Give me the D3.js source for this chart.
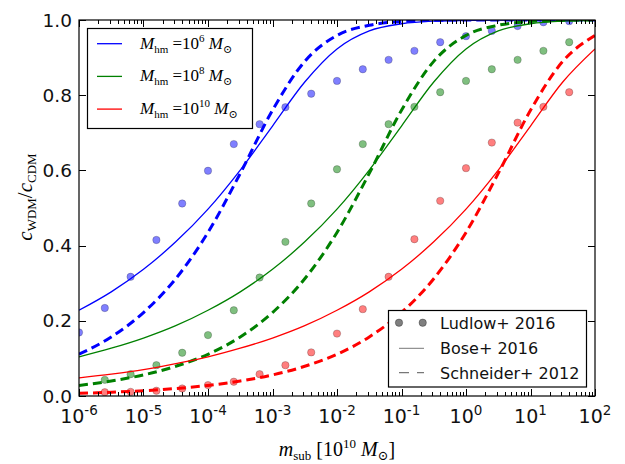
<!DOCTYPE html>
<html>
<head>
<meta charset="utf-8">
<script src="https://cdn.jsdelivr.net/npm/d3@7"></script>
<style>
	body { margin: 0; background: #fff; }
	svg { display: block; }
</style>
</head>
<body>
<div id="chart"></div>
<script>
// Ludlow+ 2016 points, x = log10(m_sub / 1e10 Msun)
var ludlowLogM = [-6.0, -5.6, -5.2, -4.8, -4.4, -4.0, -3.6, -3.2, -2.8, -2.4,
	-2.0, -1.6, -1.2, -0.8, -0.4, 0.0, 0.4, 0.8, 1.2, 1.6];
var ludlowBlue = [0.169, 0.234, 0.317, 0.415, 0.512, 0.599, 0.670, 0.723, 0.768, 0.804,
	0.838, 0.869, 0.894, 0.918, 0.941, 0.957, 0.971, 0.984, 0.994, 0.997];
var ludlowGreen = [null, 0.043, 0.058, 0.082, 0.115, 0.162, 0.228, 0.315, 0.410, 0.512,
	0.603, 0.670, 0.723, 0.769, 0.808, 0.838, 0.869, 0.894, 0.918, 0.941];
var ludlowRed = [null, 0.010, 0.011, 0.014, 0.020, 0.029, 0.038, 0.058, 0.082, 0.116,
	0.166, 0.231, 0.317, 0.417, 0.519, 0.606, 0.674, 0.727, 0.769, 0.808];

// model curves read every half decade
var curveLogM = [-6, -5.5, -5, -4.5, -4, -3.5, -3, -2.5, -2, -1.5, -1, -0.5, 0, 0.5, 1, 1.5, 2];
var boseBlue = [0.228, 0.277, 0.337, 0.410, 0.497, 0.601, 0.718, 0.835, 0.923, 0.971,
	0.990, 0.997, 0.999, 1.0, 1.0, 1.0, 1.0];
var boseGreen = [0.104, 0.127, 0.154, 0.187, 0.228, 0.277, 0.337, 0.410, 0.497, 0.601,
	0.718, 0.835, 0.923, 0.971, 0.990, 0.997, 0.999];
var boseRed = [0.048, 0.058, 0.070, 0.086, 0.104, 0.127, 0.154, 0.187, 0.228, 0.277,
	0.337, 0.410, 0.497, 0.601, 0.718, 0.835, 0.923];
var schneiderBlue = [0.111, 0.157, 0.222, 0.312, 0.435, 0.592, 0.760, 0.890, 0.959, 0.986,
	0.996, 0.999, 1.0, 1.0, 1.0, 1.0, 1.0];
var schneiderGreen = [0.028, 0.040, 0.056, 0.079, 0.111, 0.157, 0.222, 0.312, 0.435, 0.592,
	0.760, 0.890, 0.959, 0.986, 0.996, 0.999, 1.0];
var schneiderRed = [0.007, 0.010, 0.014, 0.020, 0.028, 0.040, 0.056, 0.079, 0.111, 0.157,
	0.222, 0.312, 0.435, 0.592, 0.760, 0.890, 0.959];

var xTickExp = [-6, -5, -4, -3, -2, -1, 0, 1, 2];
var yTicks = [0, 0.2, 0.4, 0.6, 0.8, 1.0];
var hmExp = ["6", "8", "10"];
var refNames = ["Ludlow+ 2016", "Bose+ 2016", "Schneider+ 2012"];

var colors = ["#0000ff", "#008000", "#ff0000"];
var serif = "'Liberation Serif', 'DejaVu Serif', serif";
var sans = "'DejaVu Sans', sans-serif";

var width = 625, height = 464;
var x = d3.scaleLog().domain([1e-6, 1e2]).range([79, 595]);
var y = d3.scaleLinear().domain([0, 1]).range([396, 20]);

var svg = d3.select("#chart").append("svg")
	.attr("width", width)
	.attr("height", height);

svg.append("clipPath").attr("id", "clip")
	.append("rect")
	.attr("x", x.range()[0]).attr("y", y.range()[1])
	.attr("width", x.range()[1] - x.range()[0])
	.attr("height", y.range()[0] - y.range()[1]);

var plot = svg.append("g").attr("clip-path", "url(#clip)");

var series = [
	{ dots: ludlowBlue, bose: boseBlue, schneider: schneiderBlue },
	{ dots: ludlowGreen, bose: boseGreen, schneider: schneiderGreen },
	{ dots: ludlowRed, bose: boseRed, schneider: schneiderRed }
];

// scatter first (matplotlib draws collections under lines)
series.forEach(function(s, i) {
	var pts = d3.zip(ludlowLogM, s.dots).filter(function(d) { return d[1] != null; });
	plot.append("g").selectAll("circle")
		.data(pts)
		.enter()
		.append("circle")
		.attr("cx", function(d) { return x(Math.pow(10, d[0])); })
		.attr("cy", function(d) { return y(d[1]); })
		.attr("r", 3.7)
		.attr("fill", colors[i])
		.attr("fill-opacity", 0.5)
		.attr("stroke", "#000")
		.attr("stroke-opacity", 0.35)
		.attr("stroke-width", 0.6);
});

var line = d3.line()
	.x(function(d) { return x(Math.pow(10, d[0])); })
	.y(function(d) { return y(d[1]); })
	.curve(d3.curveMonotoneX);

series.forEach(function(s, i) {
	plot.append("path")
		.datum(d3.zip(curveLogM, s.bose))
		.attr("fill", "none")
		.attr("stroke", colors[i])
		.attr("stroke-width", 1.3)
		.attr("d", line);
	plot.append("path")
		.datum(d3.zip(curveLogM, s.schneider))
		.attr("fill", "none")
		.attr("stroke", colors[i])
		.attr("stroke-width", 3)
		.attr("stroke-dasharray", "9,5")
		.attr("d", line);
});

// frame
svg.append("rect")
	.attr("x", x.range()[0]).attr("y", y.range()[1])
	.attr("width", x.range()[1] - x.range()[0])
	.attr("height", y.range()[0] - y.range()[1])
	.attr("fill", "none")
	.attr("stroke", "#000")
	.attr("stroke-width", 1.2);

// ticks, inward on all four sides
var minorX = [];
xTickExp.slice(0, -1).forEach(function(e) {
	for (var k = 2; k < 10; k++) minorX.push(k * Math.pow(10, e));
});
var majorX = xTickExp.map(function(e) { return Math.pow(10, e); });

var ticks = svg.append("g").attr("stroke", "#000").attr("stroke-width", 1);
function xTicks(vals, len) {
	vals.forEach(function(v) {
		var px = Math.round(x(v)) + 0.5;
		ticks.append("line").attr("x1", px).attr("x2", px).attr("y1", y(0)).attr("y2", y(0) - len);
		ticks.append("line").attr("x1", px).attr("x2", px).attr("y1", y(1)).attr("y2", y(1) + len);
	});
}
xTicks(majorX, 7);
xTicks(minorX, 4);
yTicks.forEach(function(v) {
	var py = Math.round(y(v)) + 0.5;
	ticks.append("line").attr("x1", x.range()[0]).attr("x2", x.range()[0] + 7).attr("y1", py).attr("y2", py);
	ticks.append("line").attr("x1", x.range()[1]).attr("x2", x.range()[1] - 7).attr("y1", py).attr("y2", py);
});

// tick labels
var xl = svg.append("g").selectAll("text")
	.data(xTickExp)
	.enter()
	.append("text")
	.attr("x", function(e) { return x(Math.pow(10, e)); })
	.attr("y", 423)
	.attr("text-anchor", "middle")
	.attr("font-family", sans)
	.attr("font-size", 19)
	.attr("fill", "#111");
xl.append("tspan").text("10");
xl.append("tspan").attr("dy", -8).attr("font-size", 13.5).text(function(e) { return String(e); });

svg.append("g").selectAll("text")
	.data(yTicks)
	.enter()
	.append("text")
	.attr("x", 72)
	.attr("y", function(v) { return y(v) + 6.5; })
	.attr("text-anchor", "end")
	.attr("font-family", sans)
	.attr("font-size", 18.5)
	.attr("fill", "#111")
	.text(function(v) { return v.toFixed(1); });

// axis labels
var xlab = svg.append("text")
	.attr("x", 337).attr("y", 456)
	.attr("text-anchor", "middle")
	.attr("font-family", serif)
	.attr("font-size", 20);
xlab.append("tspan").attr("font-style", "italic").text("m");
xlab.append("tspan").attr("dy", 4).attr("font-size", 13).text("sub");
xlab.append("tspan").attr("dy", -4).text(" [10");
xlab.append("tspan").attr("dy", -8).attr("font-size", 13).text("10");
xlab.append("tspan").attr("dy", 8).attr("font-style", "italic").text(" M");
xlab.append("tspan").attr("dy", 4).attr("font-size", 13).text("\u2299");
xlab.append("tspan").attr("dy", -4).text("]");

var ylab = svg.append("text")
	.attr("transform", "translate(32,197) rotate(-90)")
	.attr("text-anchor", "middle")
	.attr("font-family", serif)
	.attr("font-size", 21);
ylab.append("tspan").attr("font-style", "italic").text("c");
ylab.append("tspan").attr("dy", 4).attr("font-size", 13).text("WDM");
ylab.append("tspan").attr("dy", -4).text("/");
ylab.append("tspan").attr("font-style", "italic").text("c");
ylab.append("tspan").attr("dy", 4).attr("font-size", 13).text("CDM");

// legend: half-mode masses
var leg1 = svg.append("g");
leg1.append("rect")
	.attr("x", 87.5).attr("y", 28.5).attr("width", 165).attr("height", 100)
	.attr("fill", "#fff").attr("stroke", "#000").attr("stroke-width", 1.2);
var l1 = leg1.selectAll("g.e")
	.data(hmExp)
	.enter()
	.append("g")
	.attr("transform", function(d, i) { return "translate(0," + (43.7 + i * 32.7) + ")"; });
l1.append("line")
	.attr("x1", 97).attr("x2", 122).attr("y1", 0).attr("y2", 0)
	.attr("stroke", function(d, i) { return colors[i]; })
	.attr("stroke-width", 1.3);
var t1 = l1.append("text")
	.attr("x", 140).attr("y", 5)
	.attr("font-family", serif)
	.attr("font-size", 17);
t1.append("tspan").attr("font-style", "italic").text("M");
t1.append("tspan").attr("dy", 4).attr("font-size", 11).text("hm");
t1.append("tspan").attr("dy", -4).text(" =10");
t1.append("tspan").attr("dy", -7).attr("font-size", 11).text(function(d) { return d; });
t1.append("tspan").attr("dy", 7).attr("font-style", "italic").text(" M");
t1.append("tspan").attr("dy", 4).attr("font-size", 11).text("\u2299");

// legend: references
var leg2 = svg.append("g");
leg2.append("rect")
	.attr("x", 388.5).attr("y", 310.5).attr("width", 198).attr("height", 76.5)
	.attr("fill", "#fff").attr("stroke", "#000").attr("stroke-width", 1.2);
var rowY = [322.7, 348.3, 372.7];
[399, 422.7].forEach(function(cx) {
	leg2.append("circle")
		.attr("cx", cx).attr("cy", rowY[0]).attr("r", 3.7)
		.attr("fill", "#000").attr("fill-opacity", 0.5)
		.attr("stroke", "#000").attr("stroke-opacity", 0.5).attr("stroke-width", 0.6);
});
leg2.append("line")
	.attr("x1", 399).attr("x2", 424).attr("y1", rowY[1]).attr("y2", rowY[1])
	.attr("stroke", "#777").attr("stroke-width", 1);
leg2.append("line")
	.attr("x1", 399).attr("x2", 424).attr("y1", rowY[2]).attr("y2", rowY[2])
	.attr("stroke", "#777").attr("stroke-width", 1.2)
	.attr("stroke-dasharray", "10,8");
leg2.selectAll("text")
	.data(refNames)
	.enter()
	.append("text")
	.attr("x", 440)
	.attr("y", function(d, i) { return rowY[i] + 6; })
	.attr("font-family", sans)
	.attr("font-size", 16)
	.attr("fill", "#111")
	.text(function(d) { return d; });
</script>
</body>
</html>
